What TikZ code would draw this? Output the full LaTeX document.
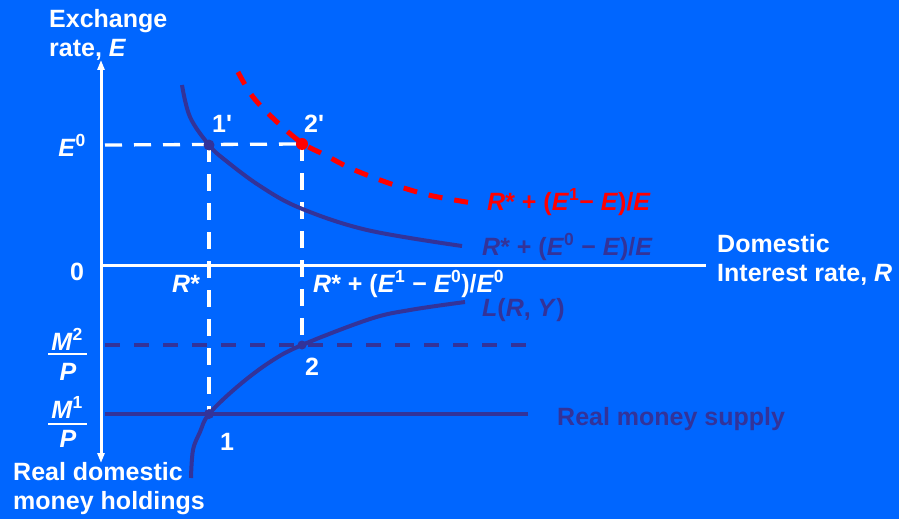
\documentclass[tikz,border=0pt]{standalone}
\usepackage{fontspec}
\setmainfont{Liberation Sans}
\usetikzlibrary{arrows.meta}
\definecolor{bgblue}{RGB}{0,102,255}
\definecolor{darkc}{RGB}{51,51,153}
\definecolor{redc}{RGB}{255,0,0}
\newcommand{\ital}[1]{\textit{#1}}
\begin{document}
\begin{tikzpicture}[x=1pt,y=-1pt,
  lbl/.style={font=\fontsize{25}{29}\selectfont\bfseries, inner sep=0pt, text=white},
  darklbl/.style={lbl, text=darkc},
  redlbl/.style={lbl, text=redc},
  axisline/.style={white, line width=3pt},
  whitedash/.style={white, line width=3.3pt, dash pattern=on 17pt off 12pt},
  darkdash/.style={darkc, line width=4pt, dash pattern=on 15pt off 14pt},
  reddash/.style={redc, line width=5pt, dash pattern=on 14pt off 12pt},
  curve/.style={darkc, line width=4pt},
  arrowtip/.style={-{Triangle[length=10pt,width=7pt]}}]
\useasboundingbox (0,0) rectangle (899,519);
\fill[bgblue] (0,0) rectangle (899,519);
% named points
\coordinate (origin) at (101,265);
\coordinate (top) at (101,60);
\coordinate (bottom) at (101,463);
\coordinate (right) at (706,265);
\coordinate (e0left) at (105,145);
\coordinate (p1p) at (209,145);
\coordinate (p2p) at (302,144);
\coordinate (p1) at (209,414);
\coordinate (p2) at (302,345);
\coordinate (m2left) at (105,345);
\coordinate (m2right) at (530,345);
\coordinate (m1left) at (105,414);
\coordinate (m1right) at (528,414);
% axes
\draw[axisline, arrowtip] (origin) -- (top);
\draw[axisline, arrowtip] (origin) -- (bottom);
\draw[axisline] (origin) -- (right);
% money lines
\draw[darkdash] (m2left) -- (m2right);
\draw[curve] (m1left) -- (m1right);
% dashed guides
\draw[whitedash] (e0left) -- (p2p);
\draw[whitedash] (p1p) -- (p1);
\draw[whitedash] (p2p) -- (p2);
% curves
\draw[curve] plot[smooth, tension=0.6] coordinates {(182,85) (190,117) (209,145) (225,160) (260,186) (300,208) (367,230) (462,246)};
\draw[curve] plot[smooth, tension=0.6] coordinates {(191,478) (193,450) (200,432) (209,414) (237,387) (270,362) (302,345) (370,319) (410,310) (465,302)};
\draw[reddash] plot[smooth, tension=0.6] coordinates {(238,72) (253,97) (277,122) (302,143) (325,155) (350,168) (380,180) (407,189) (433,196) (472,203)};
% dots
\fill[darkc] (p1p) circle (5.5pt);
\fill[redc] (p2p) circle (6pt);
\fill[darkc] (p1) circle (5pt);
\fill[darkc] (p2) circle (4.5pt);
% labels
\node[lbl, anchor=north west, align=left] (ylab) at (49,9) {Exchange\\rate, \ital{E}};
\node[lbl, anchor=base east] (e0) at (86,156) {\ital{E}\textsuperscript{0}};
\node[lbl, anchor=base west] (l1p) at (212,132) {1\textquotesingle};
\node[lbl, anchor=base west] (l2p) at (304,132) {2\textquotesingle};
\node[lbl, anchor=base west] (zero) at (70,280) {0};
\node[lbl, anchor=base west] (rstar) at (172,292) {\ital{R}*};
\node[lbl, anchor=base west] (rexp) at (313,292) {\ital{R}* + (\ital{E}\textsuperscript{1} − \ital{E}\textsuperscript{0})/\ital{E}\textsuperscript{0}};
\node[darklbl, anchor=base west] (lry) at (482,316) {\ital{L}(\ital{R}, \ital{Y})};
\node[lbl, anchor=base west] (l2) at (305,375) {2};
\node[lbl, anchor=base west] (l1) at (220,450) {1};
\node[darklbl, anchor=base west] (supply) at (557,425) {Real money supply};
\node[lbl, anchor=north west, align=left] (xlab) at (717,234) {Domestic\\Interest rate, \ital{R}};
\node[redlbl, anchor=base west] (redlab) at (487,210) {\ital{R}* + (\ital{E}\textsuperscript{1}− \ital{E})/\ital{E}};
\node[darklbl, anchor=base west] (darklab) at (482,255) {\ital{R}* + (\ital{E}\textsuperscript{0} − \ital{E})/\ital{E}};
\node[lbl, anchor=north west, align=left] (holdlab) at (13,462) {Real domestic\\money holdings};
% fractions
\node[lbl, anchor=base] (m2) at (67,350) {\ital{M}\textsuperscript{2}};
\node[lbl, anchor=base] (p2den) at (68,380) {\ital{P}};
\draw[white, line width=1.5pt] (48,354) -- (87,354);
\node[lbl, anchor=base] (m1) at (67,418) {\ital{M}\textsuperscript{1}};
\node[lbl, anchor=base] (p1den) at (68,447) {\ital{P}};
\draw[white, line width=1.5pt] (48,424) -- (87,424);
\end{tikzpicture}
\end{document}
